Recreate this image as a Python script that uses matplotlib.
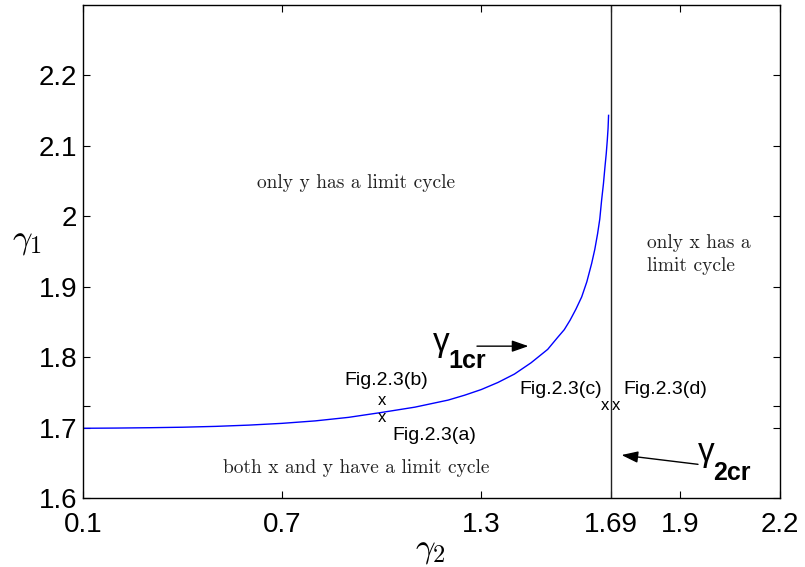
import matplotlib
matplotlib.use("Agg")
import matplotlib.pyplot as plt

plt.rcParams["font.family"] = ["Liberation Sans", "DejaVu Sans"]
plt.rcParams["mathtext.fontset"] = "cm"

# critical curve gamma_1cr(gamma_2)
gamma2 = [0.10, 0.20, 0.30, 0.40, 0.50, 0.60, 0.70, 0.80, 0.90, 1.00, 1.10,
          1.20, 1.25, 1.30, 1.35, 1.40, 1.45, 1.50, 1.53, 1.55, 1.5676, 1.585,
          1.6025, 1.618, 1.6325, 1.642, 1.6505, 1.657, 1.6625, 1.668, 1.6726,
          1.6765, 1.6796, 1.682, 1.6835]
gamma1 = [1.699, 1.6993, 1.6998, 1.7005, 1.7017, 1.7035, 1.706, 1.7095, 1.7145,
          1.7215, 1.729, 1.739, 1.746, 1.754, 1.764, 1.776, 1.792, 1.811, 1.828,
          1.839, 1.8525, 1.868, 1.8855, 1.907, 1.933, 1.953, 1.9755, 1.996,
          2.0227, 2.046, 2.070, 2.089, 2.1078, 2.125, 2.1433]

gamma2_cr = 1.69

xticks = [0.1, 0.7, 1.3, 1.69, 1.9, 2.2]
xticklabels = ["0.1", "0.7", "1.3", "1.69", "1.9", "2.2"]
yticks = [1.6, 1.7, 1.73, 1.8, 1.9, 2.0, 2.1, 2.2]
yticklabels = ["1.6", "1.7", "", "1.8", "1.9", "2", "2.1", "2.2"]

# sample points from the cited figures
fig_points = {
    "Fig.2.3(a)": (1.0, 1.714),
    "Fig.2.3(b)": (1.0, 1.7376),
    "Fig.2.3(c)": (1.674, 1.731),
    "Fig.2.3(d)": (1.705, 1.731),
}
fig_label_pos = {
    "Fig.2.3(a)": (1.157, 1.6894),
    "Fig.2.3(b)": (1.014, 1.7667),
    "Fig.2.3(c)": (1.538, 1.7546),
    "Fig.2.3(d)": (1.853, 1.7546),
}

fig = plt.figure(figsize=(8.05, 5.67), dpi=100)
ax = fig.add_axes([83 / 805, 69 / 567, 697 / 805, 493 / 567])

ax.plot(gamma2, gamma1, color="#0000ff", lw=1.0)
ax.axvline(gamma2_cr, color="#222222", lw=1.0)

ax.set_xlim(0.1, 2.2)
ax.set_ylim(1.6, 2.3)
ax.set_xticks(xticks)
ax.set_xticklabels(xticklabels)
ax.set_yticks(yticks)
ax.set_yticklabels(yticklabels)
ax.tick_params(direction="in", length=5, width=0.8, top=True, right=True,
               labelsize=20)
ax.tick_params(axis="x", pad=10)
ax.tick_params(axis="y", pad=4.3)
for s in ax.spines.values():
    s.set_linewidth(1.0)
    s.set_color("black")

ax.set_xlabel(r"$\gamma_2$", fontsize=25, va="center")
ax.xaxis.set_label_coords(0.498, -0.105)
ax.set_ylabel(r"$\gamma_1$", fontsize=25, rotation=0, ha="center", va="center")
ax.yaxis.set_label_coords(-0.080, 0.523)

# region descriptions
serif = dict(family="cmr10", fontsize=14, color="#222222")
ax.text(0.923, 2.0468, "only y has a limit cycle", ha="center", va="center", **serif)
ax.text(0.923, 1.6426, "both x and y have a limit cycle", ha="center", va="center", **serif)
ax.text(1.80, 1.946, "only x has a\nlimit cycle", ha="left", va="center",
        linespacing=1.35, **serif)

# sample points and their labels
for name, (px, py) in fig_points.items():
    ax.annotate("x", xy=(px, py), xytext=(0, -2.9), textcoords="offset points",
                ha="center", va="baseline", fontsize=12)
    lx, ly = fig_label_pos[name]
    ax.text(lx, ly, name, ha="center", va="center", fontsize=14)

arrow_style = dict(arrowstyle="-|>,head_length=1.0,head_width=0.35",
                   mutation_scale=10, lw=1.0, color="black",
                   shrinkA=0, shrinkB=0)

# gamma_1cr label and arrow
ax.text(1.154, 1.8085, "\u03b3", fontsize=24, ha="left", va="baseline")
ax.text(1.200, 1.7848, "1cr", fontsize=18, fontweight="bold", ha="left", va="baseline")
ax.annotate("", xy=(1.442, 1.8156), xytext=(1.287, 1.8156), arrowprops=arrow_style)

# gamma_2cr label and arrow
ax.text(1.952, 1.6525, "\u03b3", fontsize=24, ha="left", va="baseline")
ax.text(2.000, 1.6255, "2cr", fontsize=18, fontweight="bold", ha="left", va="baseline")
ax.annotate("", xy=(1.7225, 1.661), xytext=(1.953, 1.6478), arrowprops=arrow_style)

fig.savefig("out.png", dpi=100)
